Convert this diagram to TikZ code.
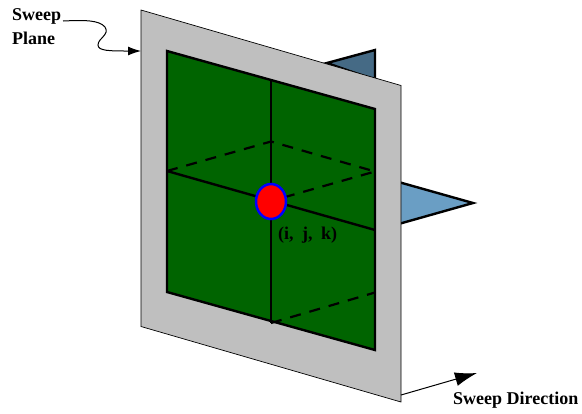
\documentclass[tikz,border=0pt]{standalone}
\usepackage{fontspec}
\setmainfont{Liberation Serif}
\usetikzlibrary{arrows.meta,shapes.geometric}
\definecolor{planegray}{RGB}{191,191,191}
\definecolor{sheetgreen}{RGB}{0,100,0}
\definecolor{darkfin}{RGB}{69,106,133}
\definecolor{lightfin}{RGB}{106,158,196}
\tikzset{
  plane/.style={draw=black,line width=0.7bp,fill=planegray},
  sheet/.style={draw=black,line width=2.4bp,line join=miter,fill=sheetgreen},
  fin/.style={draw=black,line width=2.4bp,line join=miter},
  gridline/.style={draw=black,line width=2.4bp},
  dashline/.style={draw=black,line width=2.2bp,dash pattern=on 11bp off 9bp},
  lab/.style={font=\fontsize{18bp}{20bp}\selectfont\bfseries,inner sep=0pt,anchor=west},
  pointer/.style={draw=black,line width=1bp,-{Latex[length=13bp,width=9bp]}},
  bigpointer/.style={draw=black,line width=1bp,-{Latex[length=22bp,width=14bp]}},
}
\begin{document}
\begin{tikzpicture}[x=1bp,y=-1bp]
\useasboundingbox (0,0) rectangle (582,413);
% fins behind the plane
\path[fin,fill=darkfin] (327,63) -- (375,50) -- (375,80) -- cycle;
\path[fin,fill=lightfin] (395,181) -- (473,203) -- (395,225) -- cycle;
% plane
\path[plane] (141,10) -- (401,85.5) -- (401,402) -- (141,326.5) -- cycle;
\coordinate (planeLeft) at (141,51);
\coordinate (planeCorner) at (401,395);
% sheet
\path[sheet] (167,51) -- (375,109) -- (375,350) -- (167,292) -- cycle;
% named points
\coordinate (L) at (167,171);
\coordinate (R) at (375,230);
\coordinate (T) at (271,79);
\coordinate (B) at (271,323);
\coordinate (back) at (271,141.5);
\coordinate (RD) at (375,171.5);
\coordinate (RB) at (375,292.5);
% lines
\draw[dashline] (L) -- (back) -- (RD) -- (271,201);
\draw[dashline] (B) -- (RB);
\draw[gridline] (L) -- (R);
\draw[gridline] (T) -- (B);
% point
\node[ellipse,draw=blue,line width=2.5bp,fill=red,minimum width=30bp,minimum height=35bp,inner sep=0pt] (pt) at (271,201.5) {};
% labels
\node[lab] (ijk) at (278,235.5) {(i,\hspace{4bp} j,\hspace{4bp} k)};
\node[lab] (sweep) at (12,16) {Sweep};
\node[lab] (planeLab) at (12,38.5) {Plane};
\node[lab] (dirLab) at (453,400) {Sweep Direction};
\coordinate (dirEnd) at (477,373);
% pointers
\draw[pointer] (63,21) .. controls (85,20) and (99,20) .. (105,27)
  .. controls (110,35) and (98,38) .. (98,45)
  .. controls (98,51) and (110,51) .. (planeLeft);
\draw[bigpointer] (planeCorner) -- (dirEnd);
\end{tikzpicture}
\end{document}
